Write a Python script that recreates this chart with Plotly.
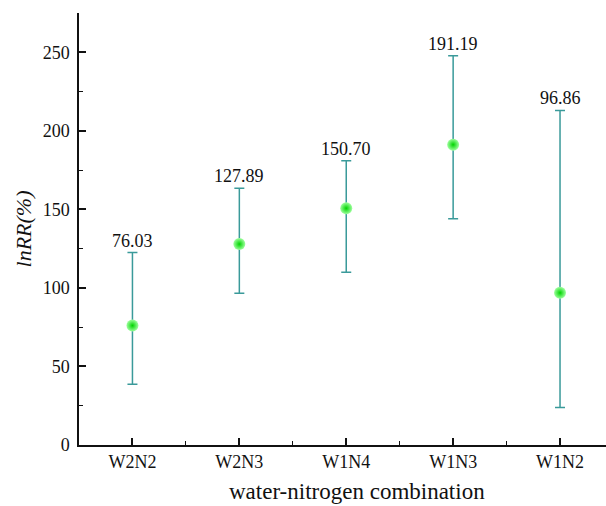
import plotly.graph_objects as go

categories = ["W2N2", "W2N3", "W1N4", "W1N3", "W1N2"]
means = [76.03, 127.89, 150.70, 191.19, 96.86]
upper = [122.5, 163.5, 181.0, 247.8, 213.0]
lower = [38.7, 96.6, 110.0, 144.0, 23.8]
labels = ["76.03", "127.89", "150.70", "191.19", "96.86"]

xpos = list(range(len(categories)))
err_plus = [u - m for u, m in zip(upper, means)]
err_minus = [m - l for m, l in zip(means, lower)]

FONT = "'Liberation Serif', 'Times New Roman', Times, serif"

fig = go.Figure()
fig.add_trace(go.Scatter(
    x=xpos, y=means, mode="markers",
    marker=dict(size=12, color="#a0ffa0",
                gradient=dict(type="radial", color="#00d400"),
                line=dict(width=0)),
    error_y=dict(type="data", symmetric=False, array=err_plus, arrayminus=err_minus,
                 color="#3a9a9a", thickness=1.5, width=5),
    showlegend=False,
))

for x, u, t in zip(xpos, upper, labels):
    fig.add_annotation(x=x, y=u, text=t, showarrow=False, yanchor="bottom",
                       yshift=0, font=dict(family=FONT, size=18, color="#111"))

fig.add_annotation(xref="paper", yref="paper", x=0.5275, y=-0.107,
                   xanchor="center", yanchor="middle", showarrow=False,
                   text="water-nitrogen combination",
                   font=dict(family=FONT, size=23, color="#111"))

fig.update_layout(
    width=606, height=506,
    margin=dict(l=79, r=0, t=13, b=61),
    paper_bgcolor="white", plot_bgcolor="white",
    font=dict(family=FONT, size=18, color="#111"),
)
fig.update_xaxes(
    range=[-0.5, 4.43], tickvals=xpos, ticktext=categories,
    showline=True, linecolor="#111", linewidth=1.5,
    ticks="inside", ticklen=7, tickwidth=1.5, tickcolor="#111",
    minor=dict(tick0=0, dtick=0.5, ticks="inside", ticklen=4, tickwidth=1.3, tickcolor="#111"),
    showgrid=False, zeroline=False,
    tickfont=dict(family=FONT, size=18),
)
fig.update_yaxes(
    range=[0, 275], dtick=50, tick0=0,
    showline=True, linecolor="#111", linewidth=1.5,
    ticks="inside", ticklen=7, tickwidth=1.5, tickcolor="#111",
    minor=dict(dtick=25, ticks="inside", ticklen=4, tickwidth=1.3, tickcolor="#111"),
    showgrid=False, zeroline=False,
    ticklabelstandoff=4,
    tickfont=dict(family=FONT, size=18),
    title=dict(text="<i>lnRR(%)</i>", font=dict(family=FONT, size=22), standoff=5),
)

fig.write_html("out.html")
